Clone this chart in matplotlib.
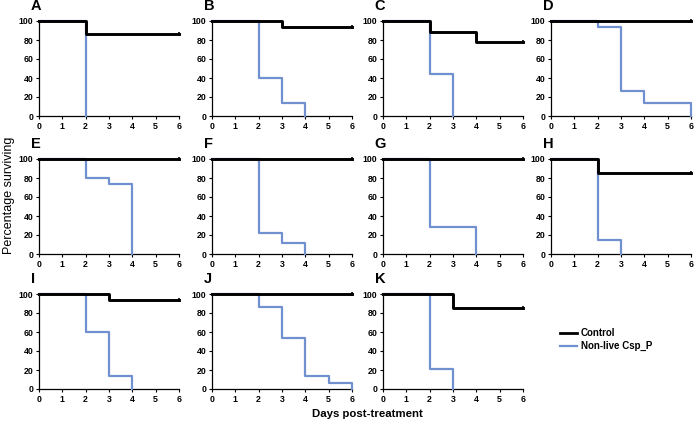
import matplotlib
matplotlib.use("Agg")
import matplotlib.pyplot as plt

plt.rcParams["font.family"] = ["Liberation Sans", "DejaVu Sans"]

panels = ["A", "B", "C", "D", "E", "F", "G", "H", "I", "J", "K"]

# Kaplan-Meier steps: (times, % surviving)
control_t = {
    "A": [0, 2, 6], "B": [0, 3, 6], "C": [0, 2, 4, 6], "D": [0, 6],
    "E": [0, 6], "F": [0, 6], "G": [0, 6], "H": [0, 2, 6],
    "I": [0, 3, 6], "J": [0, 6], "K": [0, 3, 6],
}
control_s = {
    "A": [100, 86.7, 86.7], "B": [100, 93.3, 93.3], "C": [100, 88.9, 77.8, 77.8],
    "D": [100, 100], "E": [100, 100], "F": [100, 100], "G": [100, 100],
    "H": [100, 85.7, 85.7], "I": [100, 93.3, 93.3], "J": [100, 100],
    "K": [100, 85.7, 85.7],
}
treated_t = {
    "A": [0, 2], "B": [0, 2, 3, 4], "C": [0, 2, 3], "D": [0, 2, 3, 4, 6],
    "E": [0, 2, 3, 4], "F": [0, 2, 3, 4], "G": [0, 2, 4], "H": [0, 2, 3],
    "I": [0, 2, 3, 4], "J": [0, 2, 3, 4, 5, 6], "K": [0, 2, 3],
}
treated_s = {
    "A": [100, 0], "B": [100, 40, 13.3, 0], "C": [100, 44.4, 0],
    "D": [100, 93.3, 26.7, 13.3, 0], "E": [100, 80, 73.3, 0],
    "F": [100, 22.2, 11.1, 0], "G": [100, 28.6, 0], "H": [100, 14.3, 0],
    "I": [100, 60, 13.3, 0], "J": [100, 86.7, 53.3, 13.3, 6.7, 0],
    "K": [100, 21.4, 0],
}

black = "#000000"
blue = "#7190cf"

W, H = 696, 425
col_left = [39, 212, 383, 551]
row_top = [21, 159, 294]
ax_w, ax_h = 140, 95

fig = plt.figure(figsize=(W / 100, H / 100), dpi=100)

for i, p in enumerate(panels):
    r, c = divmod(i, 4)
    ax = fig.add_axes([col_left[c] / W, 1 - (row_top[r] + ax_h) / H, ax_w / W, ax_h / H])
    ax.step(treated_t[p], treated_s[p], where="post", color=blue, lw=1.6,
            clip_on=False, zorder=3)
    ax.step(control_t[p], control_s[p], where="post", color=black, lw=2.1,
            clip_on=False, zorder=4)
    ax.plot([6], [control_s[p][-1]], marker="|", ms=3.5, mew=1.2, color=black,
            clip_on=False, zorder=5)
    ax.set_xlim(0, 6)
    ax.set_ylim(0, 100)
    ax.set_xticks(range(7))
    ax.set_yticks(range(0, 101, 20))
    ax.tick_params(labelsize=6.3, length=2.5, width=0.8, pad=1.5)
    for lab in ax.get_xticklabels() + ax.get_yticklabels():
        lab.set_fontweight("bold")
    for s in ["top", "right"]:
        ax.spines[s].set_visible(False)
    for s in ["left", "bottom"]:
        ax.spines[s].set_linewidth(0.9)
    ax.text(-0.06, 1.08, p, transform=ax.transAxes, fontsize=10.5,
            fontweight="bold", ha="left", va="bottom")

fig.text(9 / W, 1 - 195 / H, "Percentage surviving", rotation=90,
         ha="center", va="center", fontsize=9)
fig.text(367 / W, 1 - 414 / H, "Days post-treatment", ha="center",
         va="center", fontsize=8.2, fontweight="bold")

# legend
for y, col, lab, lw in [(333, black, "Control", 2.0), (346, blue, "Non-live Csp_P", 1.6)]:
    fig.add_artist(plt.Line2D([560 / W, 577 / W], [1 - y / H, 1 - y / H],
                              color=col, lw=lw))
    fig.text(581 / W, 1 - y / H, lab, ha="left", va="center", fontsize=7,
             fontweight="bold")

fig.savefig("out.png", dpi=100)
